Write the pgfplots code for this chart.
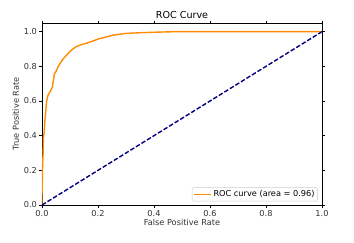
\documentclass[border=0pt]{standalone}
\usepackage{fontspec}
\setmainfont{DejaVu Sans}
\usepackage{pgfplots}
\pgfplotsset{compat=1.18}
\definecolor{darkorange}{RGB}{255,140,0}
\definecolor{mnavy}{RGB}{0,0,128}
\pgfplotsset{longline/.style={legend image code/.code={\draw[##1] (0pt,0pt) -- (17pt,0pt);}}}
\begin{document}
\begin{tikzpicture}
\useasboundingbox (-42pt,-37pt) rectangle (312pt,205pt);
\begin{axis}[
  scale only axis, width=280pt, height=182pt,
  xmin=0, xmax=1, ymin=0, ymax=1.05,
  xtick={0,0.2,...,1.0}, ytick={0,0.2,...,1.0},
  xticklabel style={yshift=1pt, /pgf/number format/.cd,fixed,fixed zerofill,precision=1},
  yticklabel style={xshift=1pt, /pgf/number format/.cd,fixed,fixed zerofill,precision=1},
  /pgf/number format/assume math mode=true,
  tick align=outside, major tick length=2.5pt,
  tick style={black, line width=0.5pt},
  ticklabel style={font=\fontsize{8.2}{9}\selectfont, text=black!80},
  xlabel={False Positive Rate}, ylabel={True Positive Rate},
  label style={font=\fontsize{8.2}{9}\selectfont, text=black!80},
  xlabel style={yshift=4pt}, ylabel style={yshift=-2pt},
  title={ROC Curve}, title style={font=\fontsize{9.6}{11}\selectfont, yshift=-5pt},
  axis line style={line width=0.5pt},
  legend pos=south east,
  legend style={font=\fontsize{8.2}{9}\selectfont, draw=black!20, rounded corners=1.5pt, inner sep=1pt, at={(0.985,0.02)}},
  legend cell align=left,
  every axis plot/.append style={line width=1.4pt},
]
\addplot[darkorange, mark=none, longline] coordinates {
(0,0) (0,0.05) (0.002,0.22) (0.004,0.30) (0.005,0.39) (0.008,0.42) (0.010,0.48) (0.014,0.55) (0.017,0.605) (0.021,0.63) (0.025,0.643) (0.031,0.66) (0.037,0.68) (0.041,0.72) (0.044,0.756) (0.050,0.77) (0.058,0.80) (0.066,0.82) (0.074,0.84) (0.085,0.86) (0.100,0.886) (0.112,0.902) (0.124,0.915) (0.140,0.925) (0.160,0.934) (0.180,0.945) (0.200,0.957) (0.225,0.968) (0.255,0.980) (0.280,0.986) (0.300,0.990) (0.340,0.993) (0.386,0.996) (0.430,0.998) (0.480,1.0) (1.0,1.0)
};
\addlegendentry{ROC curve (area = 0.96)}
\addplot[mnavy, dash pattern=on 4.5pt off 2pt, mark=none, forget plot] coordinates {(0,0) (1,1)};
\end{axis}
\end{tikzpicture}
\end{document}
